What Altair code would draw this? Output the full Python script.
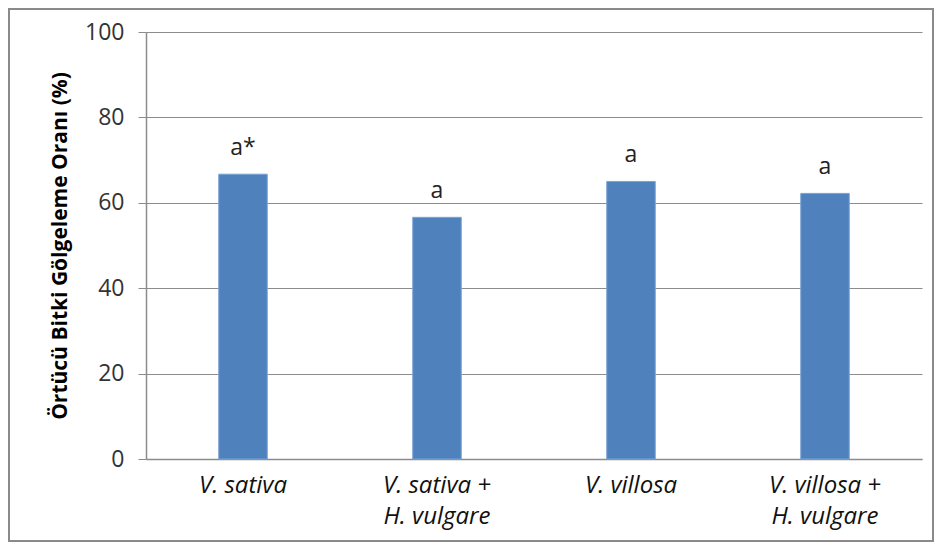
import altair as alt
import pandas as pd

categories = ["V. sativa", "V. sativa + H. vulgare", "V. villosa", "V. villosa + H. vulgare"]
values = [66.7, 56.6, 65.0, 62.2]
letters = ["a*", "a", "a", "a"]

df = pd.DataFrame({"cat": categories, "val": values, "lab": letters})

FONT = "Open Sans"
split_expr = ("indexof(datum.label, ' + ') > 0 ? "
              "[slice(datum.label, 0, indexof(datum.label, ' + ') + 2), "
              "slice(datum.label, indexof(datum.label, ' + ') + 3)] : datum.label")

x = alt.X("cat:N", sort=categories, title=None,
          scale=alt.Scale(paddingInner=0.75, paddingOuter=0.375),
          axis=alt.Axis(labelAngle=0, labelExpr=split_expr, labelFont=FONT,
                        labelFontSize=24, labelFontStyle="italic", labelColor="#111111",
                        labelLineHeight=31, labelPadding=14, ticks=False,
                        domainColor="#8c8c8c", domainWidth=1.5, labelBaseline="top"))
y = alt.Y("val:Q", title="Örtücü Bitki Gölgeleme Oranı (%)",
          scale=alt.Scale(domain=[0, 100]),
          axis=alt.Axis(values=[0, 20, 40, 60, 80, 100], labelFont=FONT, labelFontSize=23,
                        labelColor="#333333", tickSize=8, tickColor="#8c8c8c",
                        domainColor="#8c8c8c", domainWidth=1.5, gridColor="#8c8c8c",
                        gridWidth=1.2, labelPadding=14, titleFont=FONT, titleFontSize=21,
                        titleFontWeight="bold", titleColor="#000000", titlePadding=14))

bars = alt.Chart(df).mark_bar(color="#4F81BD", stroke="#7aa2d6", strokeWidth=1).encode(x=x, y=y)
text = alt.Chart(df).mark_text(font=FONT, fontSize=23, color="#222222", dy=-26).encode(
    x=alt.X("cat:N", sort=categories), y="val:Q", text="lab:N")

frame = alt.Chart(df).mark_rect(fill=None, stroke="#8a8a8a", strokeWidth=2).encode(
    x=alt.value(-137), x2=alt.value(787), y=alt.value(-23), y2=alt.value(509))

chart = alt.layer(frame, bars, text).properties(
    width=776, height=427,
    autosize=alt.AutoSizeParams(type="none"),
    padding={"left": 138, "top": 24, "right": 13, "bottom": 84},
    background="white",
).configure_view(stroke=None)

chart.save("out.html", embed_options={"renderer": "svg", "actions": False})
